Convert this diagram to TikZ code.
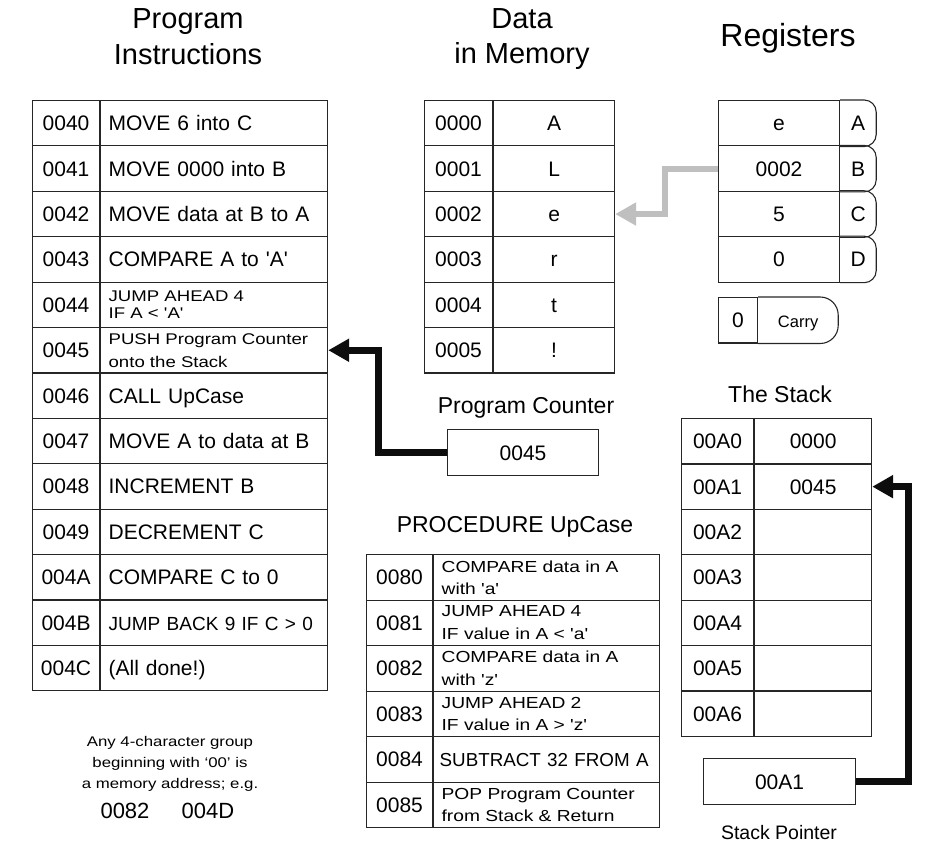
\documentclass[tikz,border=0pt]{standalone}
\usepackage{fontspec}
\newfontfamily\arial{Liberation Sans}
\newfontfamily\squat{Liberation Sans}[FakeStretch=1.2]
\usetikzlibrary{positioning,arrows.meta}
\tikzset{every picture/.style={/utils/exec={\arial}}}
\tikzset{
  box/.style={draw=black!85, line width=1.1pt, inner sep=0pt, minimum height=45.4pt, font=\fontsize{21}{24}\selectfont},
  cell/.style={box, text height=15pt, text depth=0pt},
  instr/.style={cell, text width=#1, align=left, inner xsep=8pt},
  instrtwo/.style={box, text width=#1, align=left, inner xsep=8pt},
  heading/.style={font=\fontsize{29}{34}\selectfont, anchor=base},
  caption/.style={font=\fontsize{23}{27}\selectfont, anchor=base},
  link/.style={line width=7pt, draw=black!95, -{Triangle[length=21pt,width=22pt]}},
}

\begin{document}
\begin{tikzpicture}[x=1pt, y=-1pt]
		\useasboundingbox (0,0) rectangle (937,842);

		% titles
		\node[heading] (tprog) at (188,29) {Program};
		\node[heading] (tinstr) at (188,65) {Instructions};
		\node[heading] (tdata) at (522,29) {Data};
		\node[heading] (tmem) at (522,64) {in Memory};
		\node[heading, font=\fontsize{32}{36}\selectfont] (treg) at (788,47) {Registers};

		% program instructions
		\foreach \a [count=\k from 0] in {0040,0041,0042,0043,0044,0045,0046,0047,0048,0049,004A,004B,004C}
			\node[cell, minimum width=67pt, anchor=north west] (pa\k) at (32,{100+45.4*\k}) {\a};
		\node[instr=211pt, right=0pt of pa0] (pi0) {MOVE 6 into C};
		\node[instr=211pt, right=0pt of pa1] (pi1) {MOVE 0000 into B};
		\node[instr=211pt, right=0pt of pa2] (pi2) {MOVE data at B to A};
		\node[instr=211pt, right=0pt of pa3] (pi3) {COMPARE A to 'A'};
		\node[instrtwo=211pt, right=0pt of pa4, font=\squat\fontsize{15.5}{17.4}\selectfont] (pi4) {JUMP AHEAD 4\\IF A < 'A'};
		\node[instrtwo=211pt, right=0pt of pa5, font=\squat\fontsize{15.5}{23}\selectfont] (pi5) {PUSH Program Counter\\onto the Stack};
		\node[instr=211pt, right=0pt of pa6] (pi6) {CALL UpCase};
		\node[instr=211pt, right=0pt of pa7] (pi7) {MOVE A to data at B};
		\node[instr=211pt, right=0pt of pa8] (pi8) {INCREMENT B};
		\node[instr=211pt, right=0pt of pa9] (pi9) {DECREMENT C};
		\node[instr=211pt, right=0pt of pa10] (pi10) {COMPARE C to 0};
		\node[instr=211pt, right=0pt of pa11, font=\fontsize{19}{22}\selectfont] (pi11) {JUMP BACK 9 IF C > 0};
		\node[instr=211pt, right=0pt of pa12] (pi12) {(All done!)};

		% data in memory
		\foreach \v [count=\k from 0] in {A,L,e,r,t,!} {
			\node[cell, minimum width=68pt, anchor=north west] (da\k) at (424,{100+45.4*\k}) {000\k};
			\node[cell, minimum width=121pt, right=0pt of da\k] (dv\k) {\v};
		}

		% registers
		\foreach \r/\v [count=\k from 0] in {A/e,B/0002,C/5,D/0} {
			\node[cell, minimum width=121pt, anchor=north west] (rv\r) at (718,{100+45.4*\k}) {\v};
			\node[cell, draw=none, minimum width=35pt, right=0pt of rv\r] (rn\r) {\r};
			\draw[draw=black!85, line width=1.1pt, rounded corners=12pt] (rn\r.north west) -- (rn\r.north east) -- (rn\r.south east) -- (rn\r.south west);
		}
		\node[cell, minimum width=39pt, anchor=north west] (cv) at (718,297) {0};
		\node[cell, draw=none, minimum width=79pt, right=0pt of cv, font=\fontsize{16.5}{20}\selectfont] (cn) {Carry};
		\draw[draw=black!85, line width=1.1pt, rounded corners=18pt] (cn.north west) -- (cn.north east) -- (cn.south east) -- (cn.south west);

		% program counter
		\node[caption] (pclbl) at (526,413) {Program Counter};
		\node[cell, minimum width=151pt, minimum height=46pt, anchor=north west] (pc) at (447,429) {0045};

		% the stack
		\node[caption] (stlbl) at (780,402) {The Stack};
		\foreach \v [count=\k from 0] in {0000,0045,{},{},{},{},{}} {
			\node[cell, minimum width=72pt, anchor=north west] (sa\k) at (681,{418+45.4*\k}) {00A\k};
			\node[cell, minimum width=117pt, right=0pt of sa\k] (sv\k) {\v};
		}
		\node[cell, minimum width=152pt, minimum height=46pt, anchor=north west] (sp) at (703,758) {00A1};
		\node[caption, font=\fontsize{19.5}{23}\selectfont] (splbl) at (779,839) {Stack Pointer};

		% procedure
		\node[caption] (proclbl) at (515,532) {PROCEDURE UpCase};
		\foreach \a [count=\k from 0] in {0080,0081,0082,0083,0084,0085}
			\node[cell, minimum width=66pt, minimum height=45.5pt, anchor=north west] (ua\k) at (366,{554+45.5*\k}) {\a};
		\node[instrtwo=210pt, minimum height=45.5pt, right=0pt of ua0, font=\squat\fontsize{16}{22}\selectfont] (ui0) {COMPARE data in A\\with 'a'};
		\node[instrtwo=210pt, minimum height=45.5pt, right=0pt of ua1, font=\squat\fontsize{16}{22.5}\selectfont] (ui1) {JUMP AHEAD 4\\IF value in A < 'a'};
		\node[instrtwo=210pt, minimum height=45.5pt, right=0pt of ua2, font=\squat\fontsize{16}{22.5}\selectfont] (ui2) {COMPARE data in A\\with 'z'};
		\node[instrtwo=210pt, minimum height=45.5pt, right=0pt of ua3, font=\squat\fontsize{16}{22.5}\selectfont] (ui3) {JUMP AHEAD 2\\IF value in A > 'z'};
		\node[instr=214pt, inner xsep=6pt, minimum height=45.5pt, right=0pt of ua4, font=\fontsize{18.8}{22}\selectfont] (ui4) {SUBTRACT 32 FROM A};
		\node[instrtwo=210pt, minimum height=45.5pt, right=0pt of ua5, font=\squat\fontsize{16}{22.5}\selectfont] (ui5) {POP Program Counter\\from Stack \& Return};

		% note
		\node[align=center, font=\squat\fontsize{14}{21}\selectfont] (note) at (170,764) {Any 4-character group\\beginning with ‘00’ is\\a memory address; e.g.};
		\node[anchor=base, font=\fontsize{22}{26}\selectfont] (ex1) at (125,818) {0082};
		\node[anchor=base, font=\fontsize{22}{26}\selectfont] (ex2) at (208,818) {004D};

		% arrows
		\draw[link, line width=6pt, draw=black!25] (rvB.west) -- ++(-53,0) |- (dv2.east);
		\draw[link] (pc.west) -- ++(-68.5,0) |- (pi5.east);
		\draw[link] (sp.east) -- ++(52,0) |- (sv1.east);
	\end{tikzpicture}
\end{document}
